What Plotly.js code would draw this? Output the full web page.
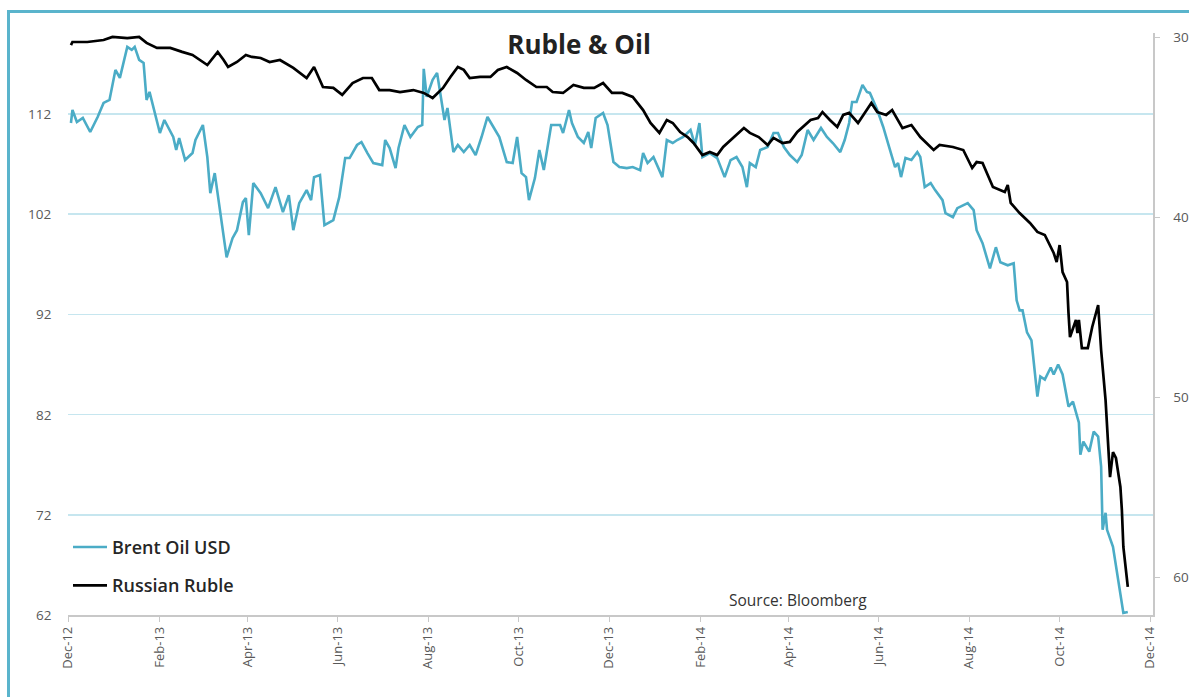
<!DOCTYPE html>
<html>
<head>
<meta charset="utf-8">
<script src="https://cdn.plot.ly/plotly-3.0.1.min.js"></script>
<style>
  html, body { margin: 0; padding: 0; background: #ffffff; overflow: hidden; }
  #chart { width: 1189px; height: 697px; }
  #frame { position: absolute; left: 7px; top: 10px; width: 1190px; height: 720px;
           border: 3px solid #5ab4cc; box-sizing: border-box; pointer-events: none; }
</style>
</head>
<body>
<div id="chart"></div>
<div id="frame"></div>
<script>
// ---- Data ----
const brentDates = [
 "2012-12-03","2012-12-04","2012-12-07","2012-12-11","2012-12-16","2012-12-21","2012-12-25","2012-12-29",
 "2013-01-02","2013-01-05","2013-01-10","2013-01-13","2013-01-15","2013-01-18","2013-01-21","2013-01-23","2013-01-25","2013-01-30",
 "2013-02-01","2013-02-04","2013-02-10","2013-02-12","2013-02-14","2013-02-18","2013-02-23","2013-02-25",
 "2013-03-02","2013-03-05","2013-03-07","2013-03-10","2013-03-12","2013-03-18","2013-03-22","2013-03-25","2013-03-29","2013-03-31",
 "2013-04-02","2013-04-05","2013-04-10","2013-04-15","2013-04-20","2013-04-25","2013-04-29",
 "2013-05-02","2013-05-06","2013-05-11","2013-05-14","2013-05-16","2013-05-20","2013-05-23","2013-05-29",
 "2013-06-02","2013-06-06","2013-06-09","2013-06-14","2013-06-17","2013-06-21","2013-06-25",
 "2013-07-01","2013-07-03","2013-07-06","2013-07-10","2013-07-12","2013-07-16","2013-07-20","2013-07-25","2013-07-28","2013-07-29","2013-07-31",
 "2013-08-02","2013-08-04","2013-08-07","2013-08-09","2013-08-12","2013-08-14","2013-08-18","2013-08-21","2013-08-25","2013-08-29",
 "2013-09-02","2013-09-06","2013-09-10","2013-09-14","2013-09-18","2013-09-23","2013-09-27","2013-09-30",
 "2013-10-03","2013-10-06","2013-10-08","2013-10-12","2013-10-15","2013-10-18","2013-10-23","2013-10-29","2013-10-31",
 "2013-11-04","2013-11-06","2013-11-10","2013-11-14","2013-11-17","2013-11-19","2013-11-22","2013-11-27","2013-11-30",
 "2013-12-04","2013-12-08","2013-12-13","2013-12-17","2013-12-22","2013-12-24","2013-12-27","2013-12-31",
 "2014-01-06","2014-01-09","2014-01-13","2014-01-16","2014-01-20","2014-01-25","2014-01-28","2014-01-31",
 "2014-02-02","2014-02-07","2014-02-12","2014-02-17","2014-02-21","2014-02-25",
 "2014-03-01","2014-03-04","2014-03-06","2014-03-10","2014-03-13","2014-03-18","2014-03-22","2014-03-25","2014-03-29",
 "2014-04-02","2014-04-07","2014-04-10","2014-04-14","2014-04-18","2014-04-23","2014-04-27",
 "2014-05-01","2014-05-06","2014-05-09","2014-05-12","2014-05-14","2014-05-17","2014-05-21","2014-05-24","2014-05-26","2014-05-31",
 "2014-06-04","2014-06-08","2014-06-12","2014-06-14","2014-06-16","2014-06-19","2014-06-23","2014-06-27","2014-06-29",
 "2014-07-02","2014-07-06","2014-07-09","2014-07-14","2014-07-16","2014-07-21","2014-07-24","2014-07-31",
 "2014-08-04","2014-08-06","2014-08-10","2014-08-15","2014-08-19","2014-08-22","2014-08-27","2014-08-31",
 "2014-09-02","2014-09-04","2014-09-06","2014-09-09","2014-09-12","2014-09-16","2014-09-18","2014-09-21","2014-09-25","2014-09-27","2014-09-30",
 "2014-10-03","2014-10-07","2014-10-10","2014-10-14","2014-10-15","2014-10-17","2014-10-21","2014-10-24","2014-10-27","2014-10-29","2014-10-30",
 "2014-11-01","2014-11-02","2014-11-06","2014-11-08","2014-11-09","2014-11-11","2014-11-13","2014-11-16"
];
const brentValues = [
 111.1,112.4,111.2,111.6,110.2,111.7,113.1,113.4,
 116.4,115.6,118.7,118.4,118.7,117.4,117.1,113.4,114.2,111.4,
 110.1,111.4,109.7,108.4,109.6,107.4,108.1,109.4,
 110.9,107.7,104.1,106.1,104.1,97.7,99.6,100.4,103.2,103.6,
 99.9,105.1,104.1,102.6,104.7,102.2,103.9,
 100.4,103.1,104.4,103.4,105.7,105.9,100.9,101.4,
 103.7,107.6,107.6,108.9,109.2,108.1,107.1,
 106.9,109.4,108.6,106.6,108.6,110.9,109.7,110.7,110.9,116.5,113.7,
 114.6,115.4,116.1,114.1,111.4,112.6,108.2,108.9,108.2,108.9,
 107.9,109.7,111.7,110.7,109.7,107.2,107.1,109.7,
 106.1,105.7,103.4,105.6,108.4,106.4,110.9,110.9,110.1,
 112.4,111.1,109.7,109.1,110.2,108.6,111.6,112.1,110.9,
 107.2,106.7,106.6,106.7,106.4,108.1,107.1,107.7,
 105.7,109.4,109.1,109.4,109.7,110.4,108.9,111.1,
 107.7,108.1,107.6,105.7,107.4,107.7,
 106.7,104.7,107.1,106.7,108.4,108.7,110.1,110.1,108.7,
 107.9,107.2,107.9,110.4,109.4,110.6,109.7,
 109.1,108.2,109.4,111.1,113.2,113.2,114.9,114.2,114.1,112.4,
 110.7,108.7,106.7,107.1,105.7,107.6,107.4,108.2,107.7,
 104.7,105.1,104.4,103.4,102.1,101.7,102.6,103.1,
 102.4,100.4,99.1,96.6,98.7,97.2,96.9,97.1,
 93.4,92.4,92.4,90.2,89.4,83.8,85.8,85.5,86.7,86.0,87.0,
 86.0,82.8,83.3,81.2,78.0,79.3,78.3,80.3,79.8,76.8,70.5,
 72.2,70.5,68.8,66.8,66.2,64.2,62.2,62.3
];

const rubleDates = [
 "2012-12-03","2012-12-04","2012-12-14","2012-12-25","2012-12-31",
 "2013-01-10","2013-01-18","2013-01-23","2013-01-30",
 "2013-02-08","2013-02-16","2013-02-23",
 "2013-03-05","2013-03-12","2013-03-16","2013-03-19","2013-03-25","2013-03-31",
 "2013-04-04","2013-04-10","2013-04-16","2013-04-23",
 "2013-05-02","2013-05-11","2013-05-16","2013-05-22","2013-05-29",
 "2013-06-02","2013-06-04","2013-06-11","2013-06-18","2013-06-24","2013-06-29",
 "2013-07-06","2013-07-13","2013-07-22","2013-07-29",
 "2013-08-04","2013-08-11","2013-08-16","2013-08-21","2013-08-25","2013-08-29",
 "2013-09-05","2013-09-12","2013-09-17","2013-09-23","2013-09-30",
 "2013-10-06","2013-10-13","2013-10-20","2013-10-24","2013-10-31",
 "2013-11-07","2013-11-14","2013-11-21","2013-11-27",
 "2013-12-03","2013-12-10","2013-12-17","2013-12-24","2013-12-29",
 "2014-01-04","2014-01-09","2014-01-13","2014-01-18","2014-01-23","2014-01-27",
 "2014-02-02","2014-02-07","2014-02-12","2014-02-16","2014-02-23",
 "2014-03-02","2014-03-06","2014-03-12","2014-03-18","2014-03-22","2014-03-28",
 "2014-04-02","2014-04-07","2014-04-11","2014-04-16","2014-04-21","2014-04-24","2014-04-29",
 "2014-05-04","2014-05-08","2014-05-12","2014-05-18","2014-05-23","2014-05-27","2014-05-31",
 "2014-06-06","2014-06-10","2014-06-17","2014-06-23","2014-06-29",
 "2014-07-08","2014-07-12","2014-07-21","2014-07-28",
 "2014-08-03","2014-08-06","2014-08-10","2014-08-17","2014-08-25","2014-08-27","2014-08-29",
 "2014-09-04","2014-09-11","2014-09-16","2014-09-21","2014-09-27","2014-09-29",
 "2014-10-01","2014-10-03","2014-10-06","2014-10-07","2014-10-08","2014-10-12","2014-10-13","2014-10-14","2014-10-16","2014-10-20","2014-10-23","2014-10-27","2014-10-29",
 "2014-11-01","2014-11-03","2014-11-04","2014-11-06","2014-11-08","2014-11-11","2014-11-12","2014-11-13","2014-11-16"
];
const rubleValues = [
 30.41,30.24,30.24,30.13,29.96,
 30.02,29.96,30.29,30.57,
 30.57,30.79,30.96,
 31.52,30.79,31.24,31.63,31.35,30.96,
 31.07,31.13,31.35,31.24,
 31.68,32.24,31.63,32.74,32.79,
 33.07,33.18,32.52,32.24,32.24,32.91,
 32.91,33.02,32.91,33.07,
 33.35,32.79,32.18,31.63,31.79,32.24,
 32.18,32.18,31.79,31.63,31.96,
 32.35,32.74,32.74,33.02,33.07,
 32.63,32.79,32.79,32.52,
 33.07,33.07,33.29,34.02,34.74,
 35.29,34.57,34.74,35.24,35.52,35.85,
 36.52,36.35,36.52,36.07,35.57,
 35.02,35.29,35.52,35.96,35.57,35.85,
 35.79,35.24,34.96,34.57,34.46,34.13,34.57,
 34.96,34.29,34.18,34.74,34.13,33.63,34.13,
 34.29,34.02,35.02,34.85,35.52,
 36.24,35.96,36.07,36.24,
 37.24,36.91,36.96,38.29,38.57,38.18,39.18,
 39.74,40.29,40.79,40.96,41.96,42.46,
 41.52,43.02,43.57,45.30,46.63,45.68,46.41,45.68,47.24,47.24,46.07,44.85,47.35,
 50.13,53.07,54.41,53.02,53.35,54.96,56.24,58.29,60.51
];

const leftTicks = [62, 72, 82, 92, 102, 112];
const rightTicks = [30, 40, 50, 60];
const seriesNames = ["Brent Oil USD", "Russian Ruble"];
const titleText = "Ruble &amp; Oil";
const sourceText = "Source: Bloomberg";

// ---- Chart ----
const traces = [
  {
    x: brentDates, y: brentValues, name: seriesNames[0], type: "scatter", mode: "lines",
    line: { color: "#4bacc6", width: 2.6 }, yaxis: "y", legendgroup: "a"
  },
  {
    x: rubleDates, y: rubleValues, name: seriesNames[1], type: "scatter", mode: "lines",
    line: { color: "#000000", width: 2.7 }, yaxis: "y2", legendgroup: "b"
  }
];

const fam = "Open Sans, Liberation Sans, sans-serif";
const tickFont = { family: fam, size: 12, color: "#595959" };

// left-axis labels, placed on the left axis' own value scale
const leftLabelAnnotations = leftTicks.map(v => ({
  text: String(v), xref: "paper", yref: "y", x: 0, y: v,
  xanchor: "right", yanchor: "middle", xshift: -15, showarrow: false,
  font: { ...tickFont, size: 13.5 }
}));

const layout = {
  width: 1189, height: 697,
  margin: { l: 68, r: 36, t: 33, b: 82, pad: 0 },
  paper_bgcolor: "#ffffff", plot_bgcolor: "#ffffff",
  showlegend: true,
  title: {
    text: titleText,
    font: { family: fam, size: 26, color: "#222222", weight: 700 },
    x: 0.487, xanchor: "center", xref: "container",
    y: 0.935, yanchor: "middle"
  },
  xaxis: {
    type: "date",
    range: ["2012-12-01", "2014-12-03"],
    tick0: "2012-12-01", dtick: "M2", tickformat: "%b-%y",
    tickangle: -90, tickfont: { ...tickFont, size: 13 },
    showgrid: false, zeroline: false,
    showline: true, linecolor: "#c8c8c8", linewidth: 1.5,
    ticks: "outside", ticklen: 5, tickcolor: "#c8c8c8", tickwidth: 1
  },
  yaxis: {
    range: [62, 120.08],
    tickvals: leftTicks,
    showticklabels: false,
    showgrid: true, gridcolor: "#c6e6ef", gridwidth: 1.6,
    zeroline: false, showline: false, ticks: ""
  },
  yaxis2: {
    overlaying: "y", side: "right",
    range: [62.07, 29.74],
    tickvals: rightTicks, ticktext: rightTicks.map(String),
    tickfont: { ...tickFont, size: 13.5 },
    showgrid: false, zeroline: false,
    showline: true, linecolor: "#c8c8c8", linewidth: 1.5,
    ticks: "outside", ticklen: 5, tickcolor: "#c8c8c8", ticklabelstandoff: 11
  },
  legend: {
    x: 0.0, xanchor: "left", y: 0.148, yanchor: "top",
    bgcolor: "rgba(0,0,0,0)", borderwidth: 0,
    traceorder: "grouped", tracegroupgap: 12, itemwidth: 34,
    font: { family: fam, size: 18, color: "#262626", weight: 600 }
  },
  annotations: [
    ...leftLabelAnnotations,
    {
      text: sourceText, xref: "paper", yref: "paper", x: 0.673, y: 0.026,
      xanchor: "center", yanchor: "middle", showarrow: false,
      font: { family: fam, size: 15.5, color: "#333333" }
    }
  ]
};

Plotly.newPlot("chart", traces, layout, { displayModeBar: false, staticPlot: true });
</script>
</body>
</html>
